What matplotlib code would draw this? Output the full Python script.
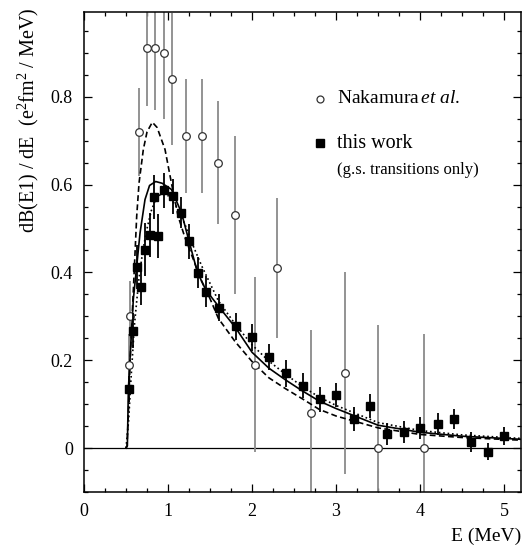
import matplotlib
matplotlib.use('Agg')
import matplotlib.pyplot as plt
from matplotlib.ticker import MultipleLocator

plt.rcParams['font.family'] = ['Liberation Serif', 'DejaVu Serif']
plt.rcParams['mathtext.fontset'] = 'custom'
plt.rcParams['mathtext.rm'] = 'Liberation Serif'
plt.rcParams['mathtext.it'] = 'Liberation Serif:italic'

# Nakamura et al. (open circles)
nak_E = [0.53, 0.545, 0.66, 0.75, 0.85, 0.95, 1.05, 1.21, 1.40, 1.60, 1.80, 2.04, 2.30, 2.70, 3.10, 3.50, 4.04]
nak_y = [0.19, 0.30, 0.72, 0.91, 0.91, 0.90, 0.84, 0.71, 0.71, 0.65, 0.53, 0.19, 0.41, 0.08, 0.17, 0.0, 0.0]
nak_err = [0.07, 0.08, 0.10, 0.13, 0.14, 0.15, 0.15, 0.13, 0.13, 0.14, 0.18, 0.20, 0.16, 0.19, 0.23, 0.28, 0.26]

# this work (filled squares)
tw_E = [0.53, 0.58, 0.63, 0.68, 0.73, 0.78, 0.83, 0.88, 0.955, 1.055, 1.155, 1.255, 1.355, 1.455, 1.605,
        1.805, 2.005, 2.205, 2.40, 2.60, 2.81, 3.00, 3.21, 3.40, 3.60, 3.81, 4.00, 4.21, 4.40, 4.60, 4.81, 5.00]
tw_y = [0.134, 0.267, 0.412, 0.366, 0.452, 0.486, 0.571, 0.482, 0.587, 0.573, 0.536, 0.471, 0.399, 0.356, 0.32,
        0.277, 0.252, 0.207, 0.17, 0.142, 0.111, 0.121, 0.066, 0.096, 0.033, 0.037, 0.046, 0.054, 0.066, 0.014, -0.008, 0.028]
tw_err = [0.03, 0.04, 0.05, 0.04, 0.06, 0.05, 0.05, 0.05, 0.04, 0.04, 0.035, 0.04, 0.035, 0.035, 0.03,
          0.03, 0.03, 0.03, 0.03, 0.028, 0.028, 0.027, 0.027, 0.027, 0.025, 0.025, 0.025, 0.025, 0.022, 0.022, 0.02, 0.02]

# calculated curves
sol_E = [0.50, 0.516, 0.528, 0.567, 0.587, 0.627, 0.667, 0.726, 0.78, 0.853, 0.93, 1.04, 1.16, 1.25, 1.35, 1.45,
         1.60, 1.80, 2.00, 2.20, 2.40, 2.60, 2.80, 3.00, 3.50, 4.00, 4.50, 5.20]
sol_y = [0.0, 0.005, 0.134, 0.27, 0.339, 0.414, 0.49, 0.566, 0.598, 0.607, 0.603, 0.589, 0.536, 0.471, 0.40, 0.36,
         0.323, 0.275, 0.218, 0.182, 0.155, 0.13, 0.107, 0.09, 0.052, 0.036, 0.027, 0.02]

dot_E = [0.50, 0.53, 0.56, 0.60, 0.65, 0.70, 0.75, 0.80, 0.85, 0.90, 0.95, 1.00, 1.10, 1.20, 1.30, 1.40, 1.50,
         1.60, 1.80, 2.00, 2.20, 2.40, 2.60, 2.80, 3.00, 3.50, 4.00, 4.50, 5.20]
dot_y = [0.0, 0.06, 0.16, 0.28, 0.38, 0.45, 0.50, 0.54, 0.565, 0.576, 0.578, 0.575, 0.55, 0.51, 0.46, 0.415, 0.375,
         0.335, 0.282, 0.235, 0.198, 0.168, 0.14, 0.116, 0.097, 0.058, 0.04, 0.03, 0.022]

dash_E = [0.50, 0.512, 0.528, 0.548, 0.60, 0.627, 0.655, 0.706, 0.75, 0.813, 0.87, 0.964, 1.04, 1.12, 1.20, 1.30,
          1.40, 1.50, 1.60, 1.80, 2.00, 2.20, 2.40, 2.60, 2.80, 3.00, 3.50, 4.00, 4.50, 5.20]
dash_y = [0.0, 0.005, 0.08, 0.195, 0.414, 0.528, 0.604, 0.68, 0.72, 0.742, 0.73, 0.68, 0.604, 0.528, 0.48, 0.43,
          0.38, 0.34, 0.295, 0.242, 0.197, 0.16, 0.135, 0.112, 0.088, 0.073, 0.046, 0.031, 0.024, 0.018]

fig = plt.figure(figsize=(5.29, 5.48), dpi=100)
ax = fig.add_axes([84/529, 56/548, 437/529, 480/548])

ax.axhline(0, color='black', lw=0.9, zorder=1)

ax.errorbar(nak_E, nak_y, yerr=nak_err, fmt='none', ecolor='#8a8a8a', elinewidth=1.3, zorder=2)
ax.plot(sol_E, sol_y, '-', color='black', lw=1.2, zorder=3)
ax.plot(dot_E, dot_y, ':', color='black', lw=1.2, zorder=3)
ax.plot(dash_E, dash_y, '--', color='black', lw=1.2, dashes=(3.5, 2), zorder=3)
ax.plot(nak_E, nak_y, 'o', mfc='white', mec='#333333', mew=0.9, ms=5.5, zorder=4)
ax.errorbar(tw_E, tw_y, yerr=tw_err, fmt='s', color='black', ms=5.5, elinewidth=1.3, zorder=5)

ax.set_xlim(0, 5.2)
ax.set_ylim(-0.1, 0.993)
ax.xaxis.set_major_locator(MultipleLocator(1))
ax.xaxis.set_minor_locator(MultipleLocator(0.25))
ax.yaxis.set_minor_locator(MultipleLocator(0.05))
ax.set_yticks([0, 0.2, 0.4, 0.6, 0.8])
ax.set_yticklabels(['0', '0.2', '0.4', '0.6', '0.8'])
ax.tick_params(which='both', direction='in', top=True, right=True, labelsize=13, width=0.9)
ax.tick_params(which='major', length=6, pad=8)
ax.tick_params(which='minor', length=3)
for s in ax.spines.values():
    s.set_linewidth(1.1)

ax.set_ylabel(r'dB(E1) / dE  (e$^2$fm$^2$ / MeV)', fontsize=14.5)
ax.yaxis.set_label_coords(-0.098, 0.775)
ax.text(1.0, -0.075, 'E (MeV)', transform=ax.transAxes, ha='right', va='top', fontsize=14)

# legend drawn by hand
ax.plot([0.54], [0.819], 'o', transform=ax.transAxes, mfc='white', mec='#333333', mew=0.9, ms=5)
ax.text(0.578, 0.819, r'Nakamura$\,\mathit{et\ al.}$', transform=ax.transAxes, va='center', fontsize=14)
ax.plot([0.54], [0.727], 's', transform=ax.transAxes, color='black', ms=5.5)
ax.text(0.578, 0.727, 'this work', transform=ax.transAxes, va='center', fontsize=14.5)
ax.text(0.578, 0.671, '(g.s. transitions only)', transform=ax.transAxes, va='center', fontsize=12)

fig.savefig('out.png', dpi=100)
